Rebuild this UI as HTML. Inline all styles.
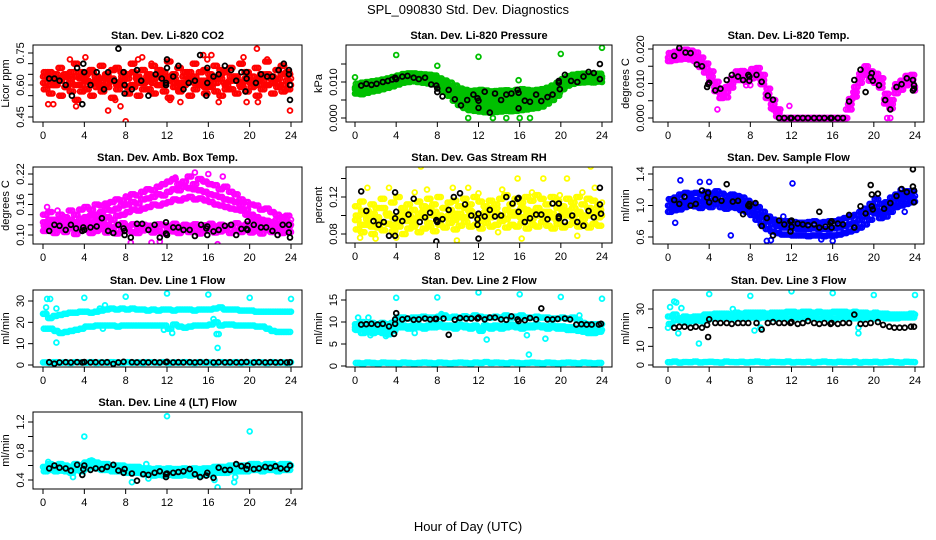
<!DOCTYPE html>
<html><head><meta charset="utf-8"><style>
body{margin:0;background:#fff;}
svg{display:block;font-family:"Liberation Sans",sans-serif;}
</style></head><body>
<svg id="chart" width="936" height="540" viewBox="0 0 936 540" xmlns="http://www.w3.org/2000/svg">
<rect width="936" height="540" fill="#fff"/>
<text x="468" y="14" text-anchor="middle" font-size="13">SPL_090830  Std. Dev. Diagnostics</text>
<text x="468" y="531" text-anchor="middle" font-size="13">Hour of Day (UTC)</text>
<g id="panels"></g>
</svg>
<script>
// ---- data (t = band index * 0.5 h) ----
const co2A=[0.64,0.66,0.62,0.68,0.65,0.63,0.70,0.66,0.62,0.67,0.64,0.69,0.65,0.62,0.68,0.66,0.63,0.70,0.64,0.67,0.62,0.69,0.65,0.66,0.71,0.63,0.68,0.64,0.66,0.70,0.62,0.67,0.65,0.69,0.63,0.66,0.68,0.64,0.70,0.66,0.62,0.68,0.65,0.71,0.64,0.67,0.69,0.66,0.63];
const co2B=[0.58,0.56,0.60,0.55,0.59,0.57,0.53,0.60,0.58,0.55,0.61,0.57,0.59,0.54,0.58,0.60,0.56,0.59,0.55,0.61,0.58,0.56,0.60,0.57,0.54,0.59,0.57,0.61,0.55,0.58,0.60,0.56,0.59,0.57,0.55,0.60,0.58,0.56,0.61,0.57,0.59,0.55,0.58,0.60,0.56,0.59,0.57,0.58,0.55];
const co2C=[0.61,0.63,0.60,0.62,0.64,0.61,0.60,0.63,0.65,0.61,0.62,0.60,0.64,0.63,0.61,0.62,0.65,0.60,0.63,0.62,0.64,0.61,0.60,0.63,0.62,0.65,0.61,0.60,0.63,0.64,0.61,0.62,0.60,0.63,0.65,0.61,0.62,0.64,0.60,0.63,0.61,0.62,0.64,0.60,0.63,0.61,0.65,0.62,0.60];
const co2E=[0.66,0.60,0.65,0.63,0.59,0.66,0.64,0.57,0.62,0.66,0.59,0.63,0.61,0.67,0.60,0.64,0.59,0.66,0.61,0.58,0.65,0.63,0.67,0.60,0.64,0.61,0.58,0.66,0.62,0.61,0.66,0.59,0.63,0.61,0.67,0.58,0.64,0.62,0.59,0.66,0.64,0.60,0.62,0.65,0.61,0.63,0.60,0.65,0.64];
const co2Out=[[0.5,0.51],[1,0.51],[2.6,0.72],[3.2,0.50],[4.1,0.73],[6.3,0.48],[7.0,0.53],[7.5,0.50],[8.0,0.43],[9.2,0.72],[9.6,0.73],[10.5,0.70],[12.3,0.53],[13.3,0.52],[15.9,0.72],[16.3,0.74],[17.0,0.52],[19.4,0.73],[20.7,0.77],[20.8,0.52],[21.7,0.72],[23.9,0.48],[15.5,0.74],[19.7,0.52]];
const co2Blk=[[0.6,0.63],[1.1,0.63],[1.6,0.62],[2.2,0.60],[2.8,0.55],[3.3,0.68],[3.8,0.51],[3.9,0.70],[4.0,0.66],[4.6,0.60],[5.2,0.66],[5.9,0.58],[6.3,0.66],[6.9,0.62],[7.3,0.77],[7.8,0.66],[7.9,0.60],[7.9,0.56],[8.6,0.58],[9.1,0.67],[9.5,0.62],[10.2,0.55],[10.9,0.65],[11.5,0.63],[11.9,0.60],[11.9,0.61],[12.0,0.72],[12.0,0.68],[12.6,0.64],[13.1,0.69],[13.6,0.58],[14.1,0.61],[14.7,0.62],[15.2,0.74],[15.8,0.55],[15.9,0.61],[15.9,0.68],[16.5,0.64],[17.0,0.65],[17.6,0.69],[18.2,0.67],[18.7,0.62],[19.2,0.66],[19.6,0.57],[19.7,0.63],[19.7,0.66],[20.6,0.61],[21.1,0.65],[21.7,0.64],[22.2,0.64],[22.8,0.67],[23.3,0.70],[23.8,0.67],[23.8,0.65],[23.9,0.60],[23.9,0.53]];

const prMid=[.0080,.0082,.0085,.0088,.0090,.0093,.0096,.0100,.0105,.0110,.0112,.0113,.0112,.0110,.0108,.0105,.0098,.0090,.0080,.0068,.0058,.0052,.0048,.0046,.0045,.0044,.0043,.0043,.0044,.0045,.0045,.0046,.0047,.0047,.0048,.0050,.0052,.0058,.0066,.0078,.0092,.0100,.0105,.0108,.0110,.0110,.0110,.0111,.0110];
const prHi=[.0095,.0098,.0100,.0102,.0104,.0107,.0110,.0114,.0118,.0122,.0124,.0124,.0122,.0121,.0120,.0118,.0110,.0104,.0098,.0090,.0082,.0078,.0075,.0076,.0078,.0076,.0074,.0075,.0076,.0077,.0075,.0078,.0080,.0078,.0076,.0078,.0080,.0084,.0090,.0098,.0108,.0116,.0120,.0122,.0123,.0122,.0121,.0123,.0120];
const prLo=[.0068,.0066,.0070,.0074,.0076,.0080,.0084,.0088,.0093,.0098,.0100,.0102,.0100,.0098,.0096,.0094,.0084,.0074,.0062,.0048,.0036,.0028,.0022,.0020,.0018,.0016,.0015,.0017,.0018,.0020,.0019,.0020,.0022,.0024,.0026,.0028,.0032,.0040,.0050,.0062,.0080,.0090,.0095,.0098,.0099,.0100,.0099,.0101,.0100];
const prMid2=[.0075,.0078,.0080,.0082,.0085,.0088,.0090,.0094,.0098,.0104,.0106,.0108,.0106,.0104,.0102,.0100,.0090,.0082,.0070,.0058,.0046,.0040,.0035,.0033,.0032,.0030,.0030,.0032,.0031,.0033,.0034,.0034,.0035,.0036,.0038,.0040,.0042,.0048,.0058,.0070,.0086,.0095,.0100,.0103,.0104,.0105,.0104,.0106,.0105];
const prHi2=[.0085,.0088,.0092,.0095,.0098,.0100,.0104,.0108,.0112,.0116,.0118,.0118,.0117,.0116,.0114,.0112,.0104,.0096,.0088,.0078,.0068,.0064,.0060,.0060,.0062,.0060,.0058,.0060,.0061,.0062,.0060,.0062,.0063,.0062,.0062,.0064,.0066,.0070,.0078,.0086,.0100,.0108,.0113,.0115,.0116,.0116,.0115,.0117,.0115];
const prOut=[[0,0.0113],[4,0.0175],[8,0.0145],[12,0.017],[20,0.0178],[24,0.0195],[11,0],[13.4,0],[14.7,0],[16,0],[17,0],[15.9,0.0105],[9,0.0088]];
const prBlk=[[0.6,0.009],[1.1,0.0095],[1.6,0.0092],[2.1,0.0095],[2.7,0.010],[3.2,0.0103],[3.6,0.0107],[3.9,0.0112],[4.0,0.0108],[4.6,0.0115],[5.1,0.0117],[5.7,0.0112],[6.2,0.0108],[6.8,0.0112],[7.4,0.0093],[7.9,0.0090],[8.0,0.0082],[8.0,0.0072],[8.5,0.006],[9.1,0.0078],[9.7,0.0052],[10.3,0.0035],[10.9,0.005],[11.5,0.0065],[11.9,0.0055],[12.0,0.0048],[12.0,0.0028],[12.6,0.0073],[13.1,0.0015],[13.6,0.0068],[14.2,0.005],[14.7,0.0065],[15.2,0.0068],[15.8,0.0078],[15.9,0.0027],[15.9,0.007],[16.5,0.0048],[17.0,0.0045],[17.6,0.0065],[18.1,0.0047],[18.7,0.0058],[19.2,0.0065],[19.8,0.0103],[19.8,0.0098],[19.9,0.008],[20.4,0.012],[21.0,0.0103],[21.6,0.010],[22.2,0.0115],[22.7,0.0128],[23.2,0.0125],[23.8,0.015],[23.8,0.0108]];

const tpMid=[.0175,.0180,.0183,.0185,.0182,.0178,.0160,.0145,.0120,.0090,.0072,.0075,.0100,.0122,.0122,.0118,.0128,.0130,.0110,.0070,.0040,.0015,0,0,0,0,0,0,0,0,0,0,0,0,0,.0040,.0075,.0115,.0138,.0120,.0115,.0100,.0055,.0040,.0085,.0095,.0108,.0112,.0090];
const tpHi=[.0188,.0192,.0196,.0198,.0195,.0190,.0175,.0158,.0135,.0105,.0085,.0090,.0115,.0135,.0136,.0132,.0142,.0145,.0125,.0085,.0052,.0025,0,0,0,0,0,0,0,0,0,0,0,0,0,.0055,.0090,.0128,.0150,.0135,.0128,.0115,.0070,.0052,.0098,.0108,.0122,.0125,.0102];
const tpLo=[.0165,.0168,.0170,.0172,.0170,.0165,.0148,.0132,.0108,.0078,.0058,.0060,.0088,.0110,.0110,.0105,.0115,.0118,.0098,.0058,.0028,.0005,0,0,0,0,0,0,0,0,0,0,0,0,0,.0025,.0062,.0102,.0125,.0108,.0102,.0088,.0042,.0028,.0072,.0082,.0095,.0100,.0080];
const tpOut=[[4.8,0.0025],[7.6,0.0095],[8.0,0.0095],[10.2,0.0025],[10.6,0.0025],[11.8,0.0035],[17.3,0.0025],[21.3,0],[21.6,0]];
const tpBlk=[[0.6,0.018],[1.1,0.0203],[1.7,0.019],[2.2,0.0188],[2.8,0.0155],[3.3,0.015],[3.8,0.009],[3.9,0.0098],[4.0,0.0102],[4.6,0.008],[5.1,0.0085],[5.7,0.011],[6.2,0.0125],[6.8,0.012],[7.3,0.011],[7.8,0.0125],[7.9,0.012],[7.9,0.0108],[8.6,0.0125],[9.1,0.0105],[9.7,0.0065],[10.2,0.0053],[10.8,0],[11.3,0],[11.9,0],[12.0,0],[12.6,0],[13.1,0],[13.6,0],[14.2,0],[14.7,0],[15.2,0],[15.8,0],[15.9,0],[16.5,0],[17.0,0],[17.6,0.0048],[18.1,0.011],[18.7,0.014],[19.2,0.0075],[19.7,0.0118],[19.8,0.013],[19.9,0.0108],[20.5,0.0095],[21.1,0.0052],[21.6,0.0025],[22.2,0.009],[22.7,0.0098],[23.2,0.0115],[23.8,0.011],[23.9,0.0095],[23.8,0.008],[23.9,0.0085]];

const abLow1=[.108,.112,.104,.110,.106,.113,.102,.109,.111,.104,.108,.112,.105,.110,.103,.108,.111,.106,.104,.109,.112,.105,.108,.103,.110,.107,.104,.111,.106,.109,.103,.108,.112,.105,.107,.110,.104,.109,.106,.111,.105,.108,.103,.110,.106,.109,.104,.108,.106];
const abLow2=[.118,.122,.115,.120,.125,.117,.121,.119,.124,.116,.122,.118,.120,.115,.119,.123,.117,.121,.116,.120,.118,.115,.121,.119,.117,.122,.116,.120,.118,.121,.115,.119,.122,.117,.120,.116,.119,.123,.118,.121,.117,.120,.116,.119,.122,.118,.121,.117,.119];
const abHump=[.125,.13,.12,.128,.122,.13,.125,.132,.135,.138,.14,.145,.15,.148,.152,.158,.16,.165,.162,.17,.172,.175,.18,.178,.185,.19,.188,.195,.192,.19,.188,.185,.18,.178,.175,.17,.168,.165,.16,.15,.14,.135,.13,.128,.125,.13,.122,.125,.12];
const abHump2=[.11,.115,.118,.112,.12,.115,.118,.12,.122,.125,.128,.13,.135,.13,.138,.14,.145,.15,.148,.152,.155,.16,.158,.162,.165,.17,.168,.172,.175,.17,.172,.168,.165,.16,.158,.155,.152,.15,.148,.14,.132,.128,.125,.12,.118,.122,.115,.12,.118];
const abHump3=[.14,.145,.13,.14,.135,.148,.14,.15,.155,.15,.16,.158,.162,.165,.17,.168,.175,.18,.178,.185,.19,.188,.195,.2,.205,.21,.2,.205,.215,.2,.21,.205,.2,.198,.19,.195,.185,.18,.17,.165,.16,.158,.15,.152,.145,.14,.135,.138,.13];
const abOut=[[8,0.176],[12.8,0.213],[14.7,0.223],[16,0.22],[17.4,0.215],[0.4,0.155],[1.4,0.148],[8.5,0.085],[11.3,0.087],[16.9,0.082],[10.5,0.085]];
const abBlk=[[0.6,0.108],[1.1,0.12],[1.6,0.118],[2.2,0.11],[2.7,0.12],[3.2,0.113],[3.8,0.108],[3.9,0.115],[4.0,0.11],[4.6,0.115],[5.2,0.117],[5.7,0.133],[6.3,0.108],[6.8,0.104],[7.3,0.12],[7.8,0.113],[7.9,0.108],[7.9,0.1],[8.5,0.095],[9.1,0.122],[9.6,0.122],[10.2,0.11],[10.8,0.12],[11.3,0.095],[11.9,0.125],[11.9,0.103],[12.0,0.1],[12.6,0.115],[13.1,0.115],[13.6,0.11],[14.2,0.11],[14.7,0.098],[15.3,0.12],[15.8,0.113],[15.9,0.117],[15.9,0.1],[16.5,0.107],[17.0,0.11],[17.6,0.118],[18.2,0.12],[18.7,0.1],[19.2,0.112],[19.7,0.112],[19.8,0.11],[19.8,0.127],[20.4,0.12],[21.1,0.115],[21.6,0.115],[22.2,0.108],[22.7,0.1],[23.2,0.12],[23.8,0.12],[23.8,0.105],[23.9,0.095]];

const rhY1=[.095,.09,.1,.088,.098,.092,.102,.09,.096,.1,.094,.088,.098,.104,.092,.1,.096,.108,.1,.095,.102,.098,.105,.1,.094,.103,.098,.108,.1,.096,.104,.1,.098,.106,.096,.1,.104,.098,.102,.095,.1,.105,.098,.102,.096,.1,.104,.098,.1];
const rhY2=[.085,.082,.09,.08,.087,.084,.091,.083,.088,.08,.086,.09,.082,.086,.088,.083,.09,.087,.092,.085,.089,.093,.088,.09,.086,.092,.088,.09,.094,.087,.09,.088,.092,.086,.09,.088,.093,.089,.086,.091,.087,.09,.092,.088,.09,.087,.091,.089,.09];
const rhY3=[.11,.115,.105,.112,.108,.118,.102,.114,.12,.108,.112,.106,.115,.11,.118,.112,.12,.108,.114,.116,.11,.118,.112,.12,.115,.11,.116,.112,.118,.122,.112,.118,.114,.12,.116,.122,.118,.112,.12,.116,.11,.118,.114,.12,.112,.118,.116,.11,.114];
const rhY4=[.1,.105,.096,.102,.094,.108,.1,.098,.092,.104,.1,.096,.102,.098,.108,.104,.1,.098,.106,.102,.098,.108,.104,.1,.098,.104,.108,.102,.1,.106,.1,.104,.108,.1,.104,.108,.1,.104,.098,.108,.104,.1,.108,.104,.1,.108,.102,.106,.098];
const rhOut=[[0.5,.076],[2,.075],[3.3,.13],[6.4,.153],[7,.128],[9.5,.13],[11,.13],[12,.124],[14.3,.128],[15.8,.14],[17.2,.125],[18.3,.14],[20.6,.14],[22.9,.153],[23.3,.13],[4,.076],[9.9,.073],[16.2,.075],[21.6,.078],[13.9,.082],[1.2,.13],[5.8,.125],[19.9,.122],[22.1,.125]];
const rhBlk=[[0.6,.126],[1.1,.105],[1.8,.094],[2.3,.09],[2.8,.093],[3.3,.078],[3.9,.078],[3.9,.097],[3.9,.125],[4.0,.104],[4.6,.094],[5.2,.101],[5.7,.118],[6.3,.093],[6.8,.098],[7.3,.103],[7.9,.095],[8.0,.094],[7.9,.072],[8.0,.093],[8.5,.096],[9.1,.106],[9.6,.12],[10.2,.124],[10.7,.112],[11.3,.1],[11.9,.096],[11.9,.09],[12.0,.075],[12.0,.102],[12.6,.099],[13.1,.106],[13.6,.099],[14.2,.1],[14.7,.12],[15.3,.113],[15.8,.118],[15.9,.119],[15.9,.104],[16.5,.093],[17.0,.097],[17.6,.101],[18.1,.101],[18.7,.096],[19.2,.113],[19.8,.113],[19.8,.097],[19.8,.099],[20.4,.093],[21.1,.1],[21.6,.093],[22.2,.089],[22.7,.105],[23.2,.098],[23.8,.13],[23.8,.112],[23.9,.102]];

const sfMid=[1.0,1.02,1.04,1.06,1.08,1.07,1.05,1.08,1.06,1.1,1.06,1.04,1.06,1.05,1.02,1.0,0.96,0.9,0.85,0.8,0.76,0.74,0.72,0.72,0.71,0.7,0.7,0.7,0.71,0.7,0.7,0.7,0.71,0.72,0.74,0.76,0.78,0.82,0.86,0.92,0.98,0.92,0.94,1.0,1.05,1.08,1.1,1.1,1.12];
const sfHi=[1.08,1.1,1.14,1.16,1.15,1.16,1.14,1.17,1.15,1.18,1.15,1.12,1.14,1.12,1.1,1.06,1.02,0.98,0.92,0.86,0.82,0.8,0.8,0.8,0.79,0.78,0.78,0.79,0.8,0.78,0.79,0.8,0.8,0.82,0.84,0.86,0.88,0.92,0.96,1.02,1.08,1.02,1.04,1.1,1.14,1.16,1.18,1.18,1.2];
const sfLo=[0.92,0.94,0.95,0.98,1.0,0.99,0.97,1.0,0.98,1.02,0.98,0.96,0.98,0.97,0.94,0.92,0.88,0.82,0.76,0.7,0.67,0.65,0.63,0.63,0.62,0.62,0.62,0.61,0.62,0.62,0.61,0.62,0.62,0.63,0.65,0.67,0.69,0.72,0.76,0.82,0.9,0.84,0.86,0.92,0.98,1.0,1.02,1.04,1.05];
const sfOut=[[1.2,1.32],[3.1,1.3],[4,1.3],[0.7,0.78],[6.1,0.62],[12.1,1.28],[9.6,0.55],[10,0.56],[11.2,0.86],[16,0.55],[14.9,0.57],[17.6,0.82],[23,0.92],[22.6,1.2]];
const sfBlk=[[0.6,1.07],[1.1,1.02],[1.6,1.11],[2.2,1.0],[2.7,1.02],[3.3,1.19],[3.8,1.1],[3.9,1.16],[4.0,1.04],[4.6,1.08],[5.2,1.06],[5.7,1.27],[6.3,1.05],[6.8,1.06],[7.3,0.89],[7.8,1.0],[7.9,1.02],[7.9,0.99],[8.5,1.03],[9.1,0.74],[9.6,0.84],[10.2,0.62],[10.8,0.81],[11.3,0.76],[11.9,0.8],[11.9,0.67],[12.0,0.81],[12.0,0.73],[12.6,0.77],[13.1,0.76],[13.6,0.75],[14.2,0.76],[14.7,0.92],[14.7,0.72],[15.3,0.73],[15.8,0.78],[15.9,0.8],[15.9,0.72],[16.5,0.77],[17.0,0.76],[17.6,0.88],[18.1,0.72],[18.7,0.99],[19.2,0.9],[19.7,1.26],[19.8,1.14],[19.8,0.99],[19.9,0.95],[20.4,1.15],[21.0,0.96],[21.6,1.03],[22.2,1.12],[22.7,1.21],[23.2,1.17],[23.8,1.46],[23.8,1.24],[23.9,1.19],[23.9,1.04]];

const l1Up=[24,22,23,23.5,24,24.5,24.5,25,25,24.5,25,25.5,26,26.5,26,26.5,26,26.5,26,26,25.5,26,25.5,26,26,25.5,26,26,26,25.5,26,26,26,26.5,27,26,26,26,25.5,25.5,25.5,25,25,25,25,25,25,25,25];
const l1Lo=[17,17,16,15,15.5,16,16.5,17,18,18,18.5,18.5,18.5,18.5,18,18.5,18.5,18.5,18.5,18.5,18.5,18.5,18.5,18.5,17,19,18,17.5,18,18.5,18.5,18.5,19,20,18.5,19,19,18.5,18.5,18.5,18.5,18,18,17,16,15.5,15.5,15.5,15.5];
const l1Zero=[1.2,1.0,1.3,1.1,1.2,1.0,1.3,1.2,1.1,1.3,1.0,1.2,1.1,1.3,1.2,1.0,1.3,1.1,1.2,1.0,1.3,1.2,1.1,1.3,1.0,1.2,1.1,1.3,1.2,1.0,1.3,1.1,1.2,1.0,1.3,1.2,1.1,1.3,1.0,1.2,1.1,1.3,1.2,1.0,1.3,1.1,1.2,1.0,1.3];
const l1Out=[[0.4,31],[0.7,31],[1.3,26.5],[1.3,10.5],[4,31.5],[8,32],[12,33.5],[16,33],[20,31.5],[24,31],[16.8,14.5],[17,14.5],[16.9,8],[16.5,21.5],[12.5,15],[0.1,24],[0.3,27],[5.8,17],[5.5,26.5],[6,28],[11.7,16.5]];
const l1Blk=[[0.6,1.3],[1.1,0.6],[1.6,1.2],[2.2,1.3],[2.7,1.2],[3.3,1.3],[3.8,1.2],[4.0,1.4],[4.6,1.2],[5.1,1.3],[5.7,1.2],[6.2,1.3],[6.8,0.5],[7.3,1.2],[7.8,1.5],[8.6,1.3],[9.1,1.2],[9.7,1.3],[10.2,1.2],[10.8,1.3],[11.3,1.2],[11.9,1.3],[12.0,1.5],[12.6,1.2],[13.1,1.3],[13.6,1.2],[14.2,1.3],[14.7,1.2],[15.2,1.3],[15.8,1.4],[16.5,1.2],[17.0,1.3],[17.6,1.2],[18.1,1.3],[18.7,1.2],[19.2,1.3],[19.7,1.4],[20.4,1.2],[20.9,1.3],[21.5,1.2],[22.0,1.3],[22.5,1.2],[23.0,1.3],[23.6,1.2],[23.9,1.3]];

const l2A=[9.5,10,9.5,9.8,9.5,9.8,9.5,9.8,11,11,10.8,11,11,11.2,11,11,11.2,11.5,11,11.2,11,11.3,11,11.5,11.2,11,11,11.2,11,11.5,11,11.2,11.5,11,11,11.2,11,11,10.8,10.8,11,10.8,11,10.5,9.8,9.5,9.5,9.5,9.5];
const l2B=[8.2,7.5,7.8,7.5,7.8,7.5,7.2,8,8.8,8.8,8.5,8.8,8.8,8.5,8.8,8.8,9,8.8,8.8,8.5,9,8.8,8.5,8.8,8,8.8,8.5,8.8,8.5,8.8,9,8.8,8.5,8.8,8.8,9,8.8,8.5,8.8,8.5,8.5,8.2,8.2,8,7.8,7.5,7.5,7.8,7.5];
const l2B2=[8.8,8.5,8.5,8.2,8.5,8.2,8,8.5,9.5,9.2,9,9.2,9.2,9,9.2,9.3,9.5,9.2,9.2,9,9.4,9.2,9,9.2,8.5,9.2,9,9.2,9,9.2,9.4,9.2,9,9.2,9.2,9.4,9.2,9,9.2,9,9,8.8,8.8,8.5,8.5,8.2,8.2,8.5,8.2];
const l2Zero=[0.7,0.6,0.8,0.7,0.6,0.8,0.7,0.7,0.6,0.8,0.7,0.6,0.7,0.8,0.7,0.6,0.8,0.7,0.6,0.7,0.8,0.7,0.6,0.8,0.7,0.9,0.7,0.8,0.7,0.6,0.8,0.7,0.6,0.7,0.8,0.7,0.6,0.8,0.7,0.6,0.7,0.8,0.7,0.6,0.8,0.7,0.6,0.7,0.8];
const l2Out=[[4,15.5],[8,15.6],[12,16.7],[16,16.3],[20,15.7],[24,15.3],[0.3,11],[1.3,11],[1.5,7],[3,6.8],[12.8,6],[16.7,7],[16.9,2.6],[18.5,6.2],[21.8,11.5],[8.4,11.8],[0,8.3],[5.8,7.5]];
const l2Blk=[[0.6,9.4],[1.1,9.5],[1.6,9.6],[2.2,9.4],[2.7,9.6],[3.3,9.0],[3.8,7.3],[3.9,10.6],[3.9,9.6],[4.0,12.0],[4.6,10.6],[5.1,10.8],[5.7,10.5],[6.2,10.6],[6.8,10.8],[7.3,10.6],[7.8,10.7],[7.9,10.7],[8.6,10.8],[9.1,7.1],[9.7,10.5],[10.2,10.9],[10.8,10.8],[11.3,10.8],[11.9,10.8],[12.0,11.0],[12.6,10.6],[13.1,11.0],[13.6,11.0],[14.2,10.6],[14.7,10.5],[15.2,11.3],[15.8,10.6],[15.9,10.2],[16.5,10.4],[17.0,10.9],[17.6,10.6],[18.1,13.1],[18.7,10.6],[19.2,10.6],[19.7,10.7],[20.4,10.8],[20.9,10.6],[21.5,9.4],[22.0,9.5],[22.5,9.4],[23.0,9.4],[23.7,9.4],[23.9,9.6]];

const l3A=[26,27,25,26,25.5,26,26,27,27,27.5,27.5,27.5,27,28,27.5,28,28,28,28,27.5,28,28,28,28.5,28.5,28,28.5,28.5,28,28.5,28,28,28.5,28.5,28.5,28,28.5,28,28,27.5,28,27.5,27.5,27,27,27,27,27.5,27];
const l3B=[22,24,24,23,23.5,24,23.5,24,25,25,25.5,25,25,25,25,25.5,25.5,25,25.5,25.5,25,25,25.5,25,25.5,25.5,25,25.5,25.5,25,25.5,25,25,25.5,25.5,25,25,25,25.5,25,25,25.5,25,25,25,25.5,25.5,25.5,25];
const l3Zero=[1.5,1.8,1.3,1.6,1.5,1.8,1.4,1.6,1.7,1.5,1.3,1.8,1.6,1.5,1.7,1.4,1.6,1.8,1.5,1.3,1.7,1.6,1.5,1.8,1.4,1.6,1.5,1.7,1.3,1.6,1.8,1.5,1.4,1.7,1.6,1.5,1.8,1.3,1.6,1.5,1.7,1.4,1.6,1.8,1.5,1.3,1.7,1.6,1.5];
const l3Out=[[0.2,31],[0.6,34],[0.8,33.5],[1.3,30.5],[1,17],[3,11.5],[4,38],[8,37],[12,39.5],[16,38.5],[20,37.5],[24,37.5],[8.4,18.5],[18.5,17],[18.5,20],[6.3,30],[9,20],[0,20]];
const l3Blk=[[0.6,20],[1.1,20.5],[1.6,20.5],[2.2,20],[2.7,20.5],[3.3,20],[3.8,21.5],[3.9,15],[4.0,24.5],[4.6,22.5],[5.1,22.5],[5.7,22.5],[6.2,22],[6.8,22.5],[7.3,22.5],[7.8,22.5],[8.6,22.5],[9.1,19],[9.7,22.5],[10.2,23],[10.8,22.5],[11.3,22.5],[11.9,22.5],[12.0,23],[12.6,22],[13.1,22.5],[13.6,23.5],[14.2,22.5],[14.7,22],[15.2,22.5],[15.8,22],[15.9,22.5],[16.5,22],[17.0,22.5],[17.6,22.5],[18.1,27],[18.7,22],[19.2,22],[19.7,22.5],[20.4,23],[20.9,21.5],[21.5,20.5],[22.0,20],[22.5,20],[23.0,20],[23.6,20.5],[23.9,20.5]];

const l4A=[.58,.62,.6,.62,.6,.58,.62,.6,.64,.66,.64,.62,.62,.6,.6,.6,.58,.58,.58,.56,.56,.55,.56,.55,.56,.55,.55,.56,.55,.56,.55,.56,.56,.58,.58,.58,.6,.6,.6,.6,.62,.62,.6,.62,.62,.6,.62,.62,.6];
const l4B=[.52,.54,.52,.53,.52,.5,.54,.52,.56,.58,.56,.54,.54,.52,.52,.52,.5,.5,.5,.48,.48,.46,.47,.46,.47,.46,.46,.47,.46,.47,.46,.47,.48,.5,.5,.5,.52,.52,.52,.52,.54,.54,.52,.54,.54,.52,.54,.54,.52];
const l4Out=[[4,1.0],[12,1.28],[20,1.07],[0.5,.65],[2.9,.44],[8.6,.37],[10.2,.42],[16.6,.4],[16.9,.3],[18.5,.37],[18.6,.44],[4.7,.67],[10,.62]];
const l4Blk=[[0.6,.56],[1.1,.6],[1.6,.57],[2.2,.56],[2.7,.53],[3.3,.61],[3.8,.47],[3.9,.55],[4.0,.6],[4.6,.54],[5.1,.56],[5.7,.55],[6.2,.58],[6.8,.61],[7.3,.53],[7.8,.5],[7.9,.55],[8.6,.49],[9.1,.39],[9.7,.48],[10.2,.47],[10.8,.5],[11.3,.52],[11.9,.44],[11.9,.48],[12.0,.49],[12.6,.5],[13.1,.51],[13.6,.52],[14.2,.55],[14.7,.48],[15.2,.44],[15.8,.46],[15.9,.5],[16.5,.43],[17.0,.57],[17.6,.54],[18.1,.54],[18.7,.62],[19.2,.59],[19.7,.55],[19.8,.6],[20.4,.55],[20.9,.56],[21.5,.58],[22.0,.57],[22.5,.59],[23.0,.56],[23.6,.55],[23.9,.6]];

const xTicks=[0,4,8,12,16,20,24];

const panels=[
 {id:'co2',title:'Stan. Dev. Li-820 CO2',ylab:'Licor ppm',box:[33,45,302,122],xs:[43,291],yr:[0.45,117,0.75,53],ticks:[.45,.5,.55,.6,.65,.7,.75],labs:[[.45,'0.45'],[.6,'0.60'],[.75,'0.75']],col:'#ff0000',bands:[co2A,co2B,co2C,co2E],out:co2Out,blk:co2Blk},
 {id:'pressure',title:'Stan. Dev. Li-820 Pressure',ylab:'kPa',box:[346,45,612,122],xs:[355,602],yr:[0,118,0.01,82],ticks:[0,.005,.01,.015],labs:[[0,'0.000'],[.01,'0.010']],col:'#00c000',bands:[prMid,prHi,prLo,prMid2,prHi2],out:prOut,blk:prBlk},
 {id:'temp',title:'Stan. Dev. Li-820 Temp.',ylab:'degrees C',box:[653,45,924,122],xs:[668,915],yr:[0,118,0.02,49],ticks:[0,.005,.01,.015,.02],labs:[[0,'0.000'],[.01,'0.010'],[.02,'0.020']],col:'#ff00ff',bands:[tpMid,tpHi,tpLo],out:tpOut,blk:tpBlk},
 {id:'amb-box',title:'Stan. Dev. Amb. Box Temp.',ylab:'degrees C',box:[33,167,302,244],xs:[43,291],yr:[0.10,235,0.22,174],ticks:[.1,.12,.14,.16,.18,.2,.22],labs:[[.1,'0.10'],[.16,'0.16'],[.22,'0.22']],col:'#ff00ff',bands:[abLow1,abLow2,abHump,abHump2,abHump3],out:abOut,blk:abBlk},
 {id:'gas-rh',title:'Stan. Dev. Gas Stream RH',ylab:'percent',box:[346,167,612,243],xs:[355,602],yr:[0.08,234,0.12,197],ticks:[.08,.1,.12,.14],labs:[[.08,'0.08'],[.12,'0.12']],col:'#ffff00',bands:[rhY1,rhY2,rhY3,rhY4],out:rhOut,blk:rhBlk},
 {id:'sample-flow',title:'Stan. Dev. Sample Flow',ylab:'ml/min',box:[653,167,924,244],xs:[668,915],yr:[0.6,237,1.4,174],ticks:[.6,.8,1,1.2,1.4],labs:[[.6,'0.6'],[1,'1.0'],[1.4,'1.4']],col:'#0000ff',bands:[sfMid,sfHi,sfLo],out:sfOut,blk:sfBlk},
 {id:'line1',title:'Stan. Dev. Line 1 Flow',ylab:'ml/min',box:[33,290,302,367],xs:[43,291],yr:[0,365,30,301],ticks:[0,10,20,30],labs:[[0,'0'],[10,'10'],[20,'20'],[30,'30']],col:'#00ffff',bands:[l1Up,l1Lo,l1Zero],out:l1Out,blk:l1Blk},
 {id:'line2',title:'Stan. Dev. Line 2 Flow',ylab:'ml/min',box:[346,290,612,367],xs:[355,602],yr:[0,366,15,300],ticks:[0,5,10,15],labs:[[0,'0'],[5,'5'],[10,'10'],[15,'15']],col:'#00ffff',bands:[l2A,l2B,l2B2,l2Zero],out:l2Out,blk:l2Blk},
 {id:'line3',title:'Stan. Dev. Line 3 Flow',ylab:'ml/min',box:[653,290,924,367],xs:[668,915],yr:[0,365,30,309],ticks:[0,10,20,30],labs:[[0,'0'],[10,'10'],[30,'30']],col:'#00ffff',bands:[l3A,l3B,l3Zero],out:l3Out,blk:l3Blk},
 {id:'line4',title:'Stan. Dev. Line 4 (LT) Flow',ylab:'ml/min',box:[33,412,302,489],xs:[43,291],yr:[0.4,480,1.2,422],ticks:[.4,.6,.8,1,1.2],labs:[[.4,'0.4'],[.8,'0.8'],[1.2,'1.2']],col:'#00ffff',bands:[l4A,l4B],out:l4Out,blk:l4Blk}
];

const NS='http://www.w3.org/2000/svg';
const root=document.getElementById('panels');
function mk(tag,attrs,parent){const e=document.createElementNS(NS,tag);for(const k in attrs)e.setAttribute(k,attrs[k]);parent.appendChild(e);return e;}

panels.forEach(p=>{
  const g=mk('g',{},root);
  
  
  const [L,T,R,B]=p.box;
  const sx=h=>p.xs[0]+h*(p.xs[1]-p.xs[0])/24;
  const sy=v=>p.yr[1]+(v-p.yr[0])*(p.yr[3]-p.yr[1])/(p.yr[2]-p.yr[0]);
  const clip='clip-'+p.id;
  const cp=mk('clipPath',{id:clip},g);
  mk('rect',{x:L,y:T,width:R-L,height:B-T},cp);
  const t=mk('text',{x:(L+R)/2,y:T-6,'text-anchor':'middle','font-size':'11','font-weight':'bold'},g);
  t.textContent=p.title;
  
  
  const pts=mk('g',{'clip-path':'url(#'+clip+')',fill:'none','stroke-width':'1.8'},g);
  
  
  const dot=(h,v,c)=>{const cx=sx(h),cy=sy(v);const e=mk('circle',{cx:cx.toFixed(1),cy:cy.toFixed(1),r:'2.4',stroke:c},pts);
    
    };
  p.bands.forEach((arr,bi)=>{
    [0,0.17,0.34].forEach(off=>{arr.forEach((v,i)=>{const h=i*0.5+off+(bi%2)*0.08;if(h<=24.05)dot(h,v,p.col);});});
  });
  p.out.forEach(d=>dot(d[0],d[1],p.col));
  p.blk.forEach(d=>dot(d[0],d[1],'#000'));
  const bx=mk('rect',{x:L,y:T,width:R-L,height:B-T,fill:'none',stroke:'#000','stroke-width':'1'},g);
  
  
  const xa=mk('g',{stroke:'#000','stroke-width':'1'},g);
  
  
  mk('line',{x1:sx(0),x2:sx(24),y1:B,y2:B},xa);
  xTicks.forEach(h=>{
    mk('line',{x1:sx(h),x2:sx(h),y1:B,y2:B+5},xa);
    const tl=mk('text',{x:sx(h),y:B+17,'text-anchor':'middle','font-size':'11',stroke:'none',fill:'#000'},xa);
    tl.textContent=h;
    
    
  });
  const ya=mk('g',{stroke:'#000','stroke-width':'1'},g);
  
  
  mk('line',{x1:L,x2:L,y1:sy(p.ticks[0]),y2:sy(p.ticks[p.ticks.length-1])},ya);
  p.ticks.forEach(v=>mk('line',{x1:L-5,x2:L,y1:sy(v),y2:sy(v)},ya));
  p.labs.forEach(([v,s])=>{
    const yy=sy(v),xx=L-9;
    const tl=mk('text',{x:xx,y:yy,'text-anchor':'middle','font-size':'11',stroke:'none',fill:'#000',transform:'rotate(-90 '+xx+' '+yy+')'},ya);
    tl.textContent=s;
    
    
  });
  const yx=L-24,yy=(T+B)/2;
  const yl=mk('text',{x:yx,y:yy,'text-anchor':'middle','font-size':'11',fill:'#000',transform:'rotate(-90 '+yx+' '+yy+')'},g);
  yl.textContent=p.ylab;
  
  
});
</script>
</body></html>
